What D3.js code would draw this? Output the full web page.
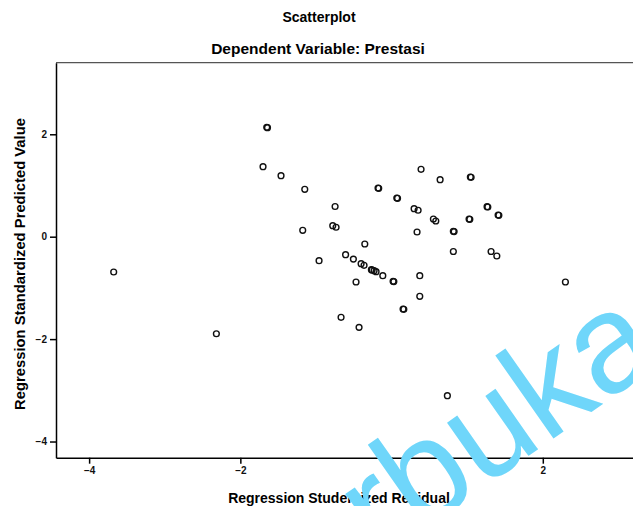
<!DOCTYPE html>
<html>
<head>
<meta charset="utf-8">
<script src="https://cdn.jsdelivr.net/npm/d3@7"></script>
<style>
  body { margin: 0; background: #fff; }
  text { font-family: "Liberation Sans", Arial, sans-serif; }
</style>
</head>
<body>
<svg id="chart" width="633" height="506"></svg>
<script>
// studentized residual (x) vs standardized predicted value (y)
const residual = [-1.651,-1.641,-1.700,-1.462,-1.148,-0.747,-1.175,-0.778,-0.734,-0.608,-0.505,-0.403,-0.364,
  -0.267,-0.257,-0.231,-0.205,-0.116,-0.959,-3.675,-0.470,-0.668,-0.430,-2.317,-0.354,-0.179,-0.170,
  0.069,0.079,0.298,0.351,0.390,0.642,1.042,1.052,0.553,0.585,0.337,0.817,0.827,1.263,1.273,1.409,1.419,
  1.025,1.035,0.817,1.316,1.392,0.020,0.030,0.373,0.373,0.152,0.162,2.299,0.738];
const predicted = [2.137,2.130,1.367,1.191,0.926,0.590,0.125,0.215,0.184,-0.352,-0.438,-0.527,-0.559,
  -0.645,-0.650,-0.664,-0.684,-0.762,-0.469,-0.689,-0.885,-1.574,-1.770,-1.895,-0.143,0.951,0.945,
  0.756,0.750,0.547,0.516,1.316,1.113,1.166,1.160,0.346,0.307,0.092,0.105,0.100,0.586,0.580,0.424,0.418,
  0.346,0.340,-0.289,-0.289,-0.377,-0.871,-0.877,-0.762,-1.164,-1.412,-1.418,-0.885,-3.105];
const xTicks = [-4, -2, 0, 2];
const yTicks = [-4, -2, 0, 2];

const svg = d3.select("#chart");
const plotL = 56, plotT = 62.7, plotB = 457.7, plotR = 660;

const x = d3.scaleLinear().domain([-4.438, 3.55]).range([plotL, plotR]);
const y = d3.scaleLinear().domain([-4.316, 3.398]).range([plotB, plotT]);

svg.append("text").attr("x", 319).attr("y", 22).attr("text-anchor", "middle")
  .attr("font-size", 14).attr("font-weight", "bold").text("Scatterplot");
svg.append("text").attr("x", 318).attr("y", 54).attr("text-anchor", "middle")
  .attr("font-size", 15.5).attr("font-weight", "bold").text("Dependent Variable: Prestasi");

// frame
svg.append("line").attr("x1", plotL).attr("x2", plotR).attr("y1", plotT).attr("y2", plotT)
  .attr("stroke", "#555").attr("stroke-width", 1.2);

let xAxis = svg.append("g").attr("transform", `translate(0,${plotB})`)
  .call(d3.axisBottom(x).tickValues(xTicks).tickSize(6).tickSizeOuter(0).tickFormat(d3.format("d")));
let yAxis = svg.append("g").attr("transform", `translate(${plotL},0)`)
  .call(d3.axisLeft(y).tickValues(yTicks).tickSize(6).tickSizeOuter(0).tickFormat(d3.format("d")));
[xAxis, yAxis].forEach(a => {
  a.select(".domain").attr("stroke", "#000").attr("stroke-width", 1.5);
  a.selectAll(".tick line").attr("stroke", "#000").attr("stroke-width", 1.5);
  a.selectAll(".tick text").attr("font-size", 10).attr("font-weight", "bold")
    .attr("font-family", "Liberation Sans, Arial, sans-serif").attr("fill", "#111");
});

svg.append("text").attr("x", 339).attr("y", 503).attr("text-anchor", "middle")
  .attr("font-size", 14).attr("font-weight", "bold").text("Regression Studentized Residual");
svg.append("text").attr("transform", "translate(25,264) rotate(-90)").attr("text-anchor", "middle")
  .attr("font-size", 14.8).attr("font-weight", "bold").text("Regression Standardized Predicted Value");

svg.append("g").selectAll("circle")
  .data(residual.map((r, i) => [r, predicted[i]]))
  .join("circle")
  .attr("cx", d => x(d[0]))
  .attr("cy", d => y(d[1]))
  .attr("r", 2.9)
  .attr("fill", "none")
  .attr("stroke", "#111")
  .attr("stroke-width", 1.4);

// watermark
svg.append("text").attr("transform", "translate(380,560) rotate(-35)")
  .attr("font-size", 140).attr("fill", "#6fd6fa").text("rbuka");
</script>
</body>
</html>
